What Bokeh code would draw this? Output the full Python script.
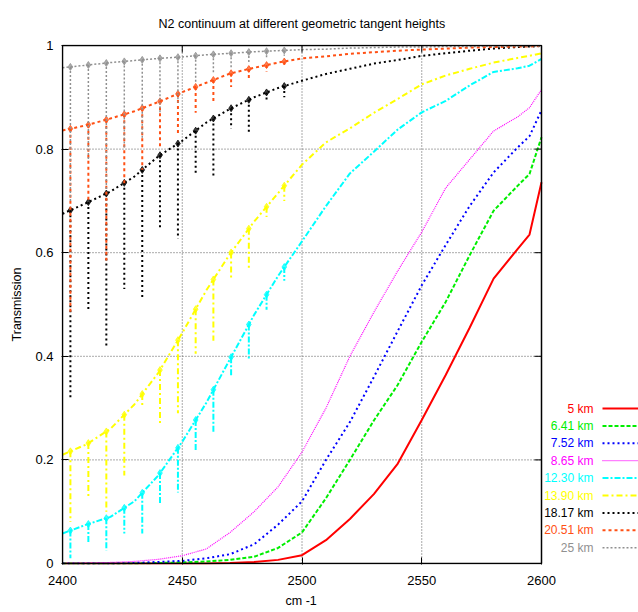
import numpy as np
from bokeh.plotting import figure
from bokeh.models import Range1d, FixedTicker, Title
from bokeh.core.properties import value
from bokeh.embed import file_html
from bokeh.resources import INLINE

# Spectral grid (cm-1)
wavenumber = [2400, 2410, 2420, 2430, 2440, 2450, 2460, 2470, 2480, 2490,
              2500, 2510, 2520, 2530, 2540, 2550, 2560, 2570, 2580, 2590, 2595, 2600]

# Continuum transmission for each geometric tangent height
trans_5_00 = [0.0, 0.0, 0.0, 0.0, 0.0, 0.0, 0.0, 0.001, 0.003, 0.007,
              0.016, 0.045, 0.086, 0.134, 0.193, 0.277, 0.364, 0.455, 0.55, 0.607, 0.635, 0.736]
trans_6_41 = [0.0, 0.0, 0.0, 0.0, 0.001, 0.002, 0.004, 0.007, 0.013, 0.03,
              0.06, 0.126, 0.2, 0.276, 0.345, 0.428, 0.505, 0.595, 0.681, 0.729, 0.752, 0.823]
trans_7_52 = [0.0, 0.0, 0.0, 0.001, 0.003, 0.005, 0.01, 0.018, 0.037, 0.075,
              0.12, 0.2, 0.273, 0.36, 0.449, 0.537, 0.615, 0.69, 0.755, 0.803, 0.825, 0.875]
trans_8_65 = [0.0, 0.001, 0.002, 0.004, 0.008, 0.015, 0.028, 0.06, 0.1, 0.148,
              0.215, 0.3, 0.4, 0.485, 0.565, 0.64, 0.725, 0.78, 0.835, 0.862, 0.88, 0.915]
trans_12_30 = [0.058, 0.075, 0.09, 0.12, 0.17, 0.235, 0.31, 0.395, 0.48, 0.555,
               0.622, 0.69, 0.753, 0.795, 0.838, 0.871, 0.893, 0.923, 0.949, 0.956, 0.961, 0.974]
trans_13_90 = [0.21, 0.23, 0.26, 0.307, 0.368, 0.445, 0.527, 0.598, 0.66, 0.715,
               0.77, 0.813, 0.84, 0.87, 0.897, 0.925, 0.942, 0.955, 0.967, 0.976, 0.98, 0.985]
trans_18_17 = [0.675, 0.696, 0.718, 0.747, 0.786, 0.816, 0.851, 0.878, 0.9, 0.918,
               0.932, 0.945, 0.955, 0.965, 0.972, 0.98, 0.985, 0.99, 0.994, 0.997, 0.998, 0.999]
trans_20_51 = [0.836, 0.846, 0.859, 0.873, 0.891, 0.91, 0.928, 0.946, 0.957, 0.967,
               0.975, 0.979, 0.984, 0.987, 0.99, 0.992, 0.994, 0.996, 0.997, 0.998, 0.998, 0.999]
trans_25_00 = [0.957, 0.962, 0.967, 0.971, 0.975, 0.978, 0.982, 0.985, 0.988, 0.99,
               0.992, 0.993, 0.995, 0.996, 0.997, 0.997, 0.998, 0.998, 0.999, 0.999, 0.999, 0.999]

# Narrow absorption lines: centre positions and the minimum transmission reached
line_centres = [2403.3, 2410.8, 2418.3, 2425.8, 2433.3, 2440.7, 2448.2,
                2455.6, 2463.0, 2470.4, 2477.8, 2485.2, 2492.6]
dip_12_30 = [0.01, 0.04, 0.025, 0.058, 0.058, 0.115, 0.137, 0.218, 0.253, 0.36, 0.395, 0.49, 0.546]
dip_13_90 = [0.08, 0.125, 0.10, 0.17, 0.30, 0.27, 0.29, 0.405, 0.43, 0.55, 0.57, 0.669, 0.70]
dip_18_17 = [0.32, 0.49, 0.42, 0.53, 0.51, 0.645, 0.627, 0.749, 0.746, 0.84, 0.833, 0.89, 0.90]
dip_20_51 = [0.48, 0.70, 0.585, 0.73, 0.76, 0.80, 0.83, 0.87, 0.89, 0.92, 0.935, 0.95, 0.96]
dip_25_00 = [0.70, 0.78, 0.72, 0.80, 0.82, 0.87, 0.89, 0.93, 0.945, 0.955, 0.965, 0.975, 0.98]

height_labels = ["5 km", "6.41 km", "7.52 km", "8.65 km", "12.30 km",
                 "13.90 km", "18.17 km", "20.51 km", "25 km"]
x_ticks = [2400, 2450, 2500, 2550, 2600]
y_ticks = [0, 0.2, 0.4, 0.6, 0.8, 1]
y_tick_labels = ["0", "0.2", "0.4", "0.6", "0.8", "1"]

FONT = "Liberation Sans"

series = [
    dict(y=trans_5_00, dips=None, color="#ff0000", width=2, dash="solid"),
    dict(y=trans_6_41, dips=None, color="#00ee00", width=2, dash="4 2"),
    dict(y=trans_7_52, dips=None, color="#0000ff", width=2, dash="2 3"),
    dict(y=trans_8_65, dips=None, color="#ff00ff", width=1.2, dash="1 1"),
    dict(y=trans_12_30, dips=dip_12_30, color="#00ffff", width=2, dash="6 2 2 2"),
    dict(y=trans_13_90, dips=dip_13_90, color="#ffff00", width=2, dash="6 3 2 3"),
    dict(y=trans_18_17, dips=dip_18_17, color="#000000", width=2, dash="2 3"),
    dict(y=trans_20_51, dips=dip_20_51, color="#ff5014", width=2, dash="3 3"),
    dict(y=trans_25_00, dips=dip_25_00, color="#909090", width=1.5, dash="2 2"),
]

# Page geometry: the boxed data area spans x 62..541 and y 45..563 on the page;
# the drawing area runs on to the right page edge so the key can sit beside the box.
W, H = 638, 612
BOX_L, BOX_R, BOX_T, BOX_B = 62, 541, 45, 563
x0, x1 = x_ticks[0], x_ticks[-1]
y0, y1 = y_ticks[0], y_ticks[-1]
px_per_x = (BOX_R - BOX_L) / (x1 - x0)
px_per_y = (BOX_B - BOX_T) / (y1 - y0)
pad_y = 1.0 / px_per_y


def page_x(px):
    return x0 + (px - BOX_L) / px_per_x


def page_y(py):
    return y0 + (BOX_B - py) / px_per_y


p = figure(width=W, height=H,
           x_range=Range1d(page_x(BOX_L - 1), page_x(W)),
           y_range=Range1d(y0 - pad_y, y1 + pad_y),
           output_backend="svg", toolbar_location=None,
           min_border_left=BOX_L - 1, min_border_right=0,
           min_border_top=BOX_T - 1, min_border_bottom=H - BOX_B - 1)

p.background_fill_color = "white"
p.border_fill_color = "white"
p.outline_line_color = None
p.grid.visible = False

title_text = "N2 continuum at different geometric tangent heights"
p.add_layout(Title(text=title_text, align="left", offset=97, standoff=28,
                   text_font=FONT, text_font_size="12.5px", text_font_style="normal",
                   text_color="black"), "above")

# Axes: inward ticks, no axis line (the box is drawn separately)
for ax in (p.xaxis[0], p.yaxis[0]):
    ax.axis_line_color = None
    ax.major_tick_in = 7
    ax.major_tick_out = 0
    ax.minor_tick_line_color = None
    ax.major_tick_line_color = "black"
    ax.major_label_text_font = FONT
    ax.major_label_text_font_size = "13px"
    ax.major_label_text_color = "black"
    ax.axis_label_text_font = FONT
    ax.axis_label_text_font_size = "12.5px"
    ax.axis_label_text_font_style = "normal"
    ax.axis_label_text_color = "black"

p.xaxis.ticker = FixedTicker(ticks=x_ticks)
p.yaxis.ticker = FixedTicker(ticks=y_ticks)
p.yaxis.major_label_overrides = {t: s for t, s in zip(y_ticks, y_tick_labels)}
p.xaxis.major_label_standoff = 11
p.yaxis.major_label_standoff = 8
p.yaxis.axis_label = "Transmission"
p.yaxis.axis_label_standoff = 8
p.add_layout(Title(text="cm -1", align="left", offset=224, standoff=9,
                   text_font=FONT, text_font_size="12.5px", text_font_style="normal",
                   text_color="black"), "below")

# Dotted grid at the interior ticks, inside the box only
gx = x_ticks[1:-1]
gy = y_ticks[1:-1]
p.segment(x0=gx, y0=[y0] * len(gx), x1=gx, y1=[y1] * len(gx),
          line_color="#555555", line_dash="1 2", line_width=1)
p.segment(x0=[x0] * len(gy), y0=gy, x1=[x1] * len(gy), y1=gy,
          line_color="#555555", line_dash="1 2", line_width=1)

for s in series:
    p.line(wavenumber, s["y"], line_color=s["color"], line_width=s["width"],
           line_dash=s["dash"])
    if s["dips"] is not None:
        top = np.interp(line_centres, wavenumber, s["y"])
        p.segment(x0=line_centres, y0=top, x1=line_centres, y1=s["dips"],
                  line_color=s["color"], line_width=s["width"], line_dash=s["dash"])
        p.scatter(x=line_centres, y=top, marker="diamond", size=7,
                  fill_color=s["color"], line_color=s["color"], alpha=0.75)

# Mirrored inward ticks on the top and right edges of the box
tick_len_x = 7 / px_per_x
tick_len_y = 7 / px_per_y
p.segment(x0=x_ticks, y0=[y1] * len(x_ticks), x1=x_ticks, y1=[y1 - tick_len_y] * len(x_ticks),
          line_color="black", line_width=1)
p.segment(x0=[x1] * len(y_ticks), y0=y_ticks, x1=[x1 - tick_len_x] * len(y_ticks), y1=y_ticks,
          line_color="black", line_width=1)

# Box around the data area
p.quad(left=[x0], right=[x1], bottom=[y0], top=[y1], fill_color=None,
       line_color="black", line_width=1.5)

# Key beside the box: right-aligned labels followed by line samples
for i, (s, lab) in enumerate(zip(series, height_labels)):
    yk = page_y(408 + 17.4 * i)
    p.text(x=[page_x(593)], y=[yk], text=[lab], text_align="right", text_baseline="middle",
           text_color=s["color"], text_font=value(FONT), text_font_size="12px")
    p.line(x=[page_x(602), page_x(W)], y=[yk, yk], line_color=s["color"],
           line_width=s["width"], line_dash=s["dash"])

open("out.html", "w").write(file_html(p, INLINE))
